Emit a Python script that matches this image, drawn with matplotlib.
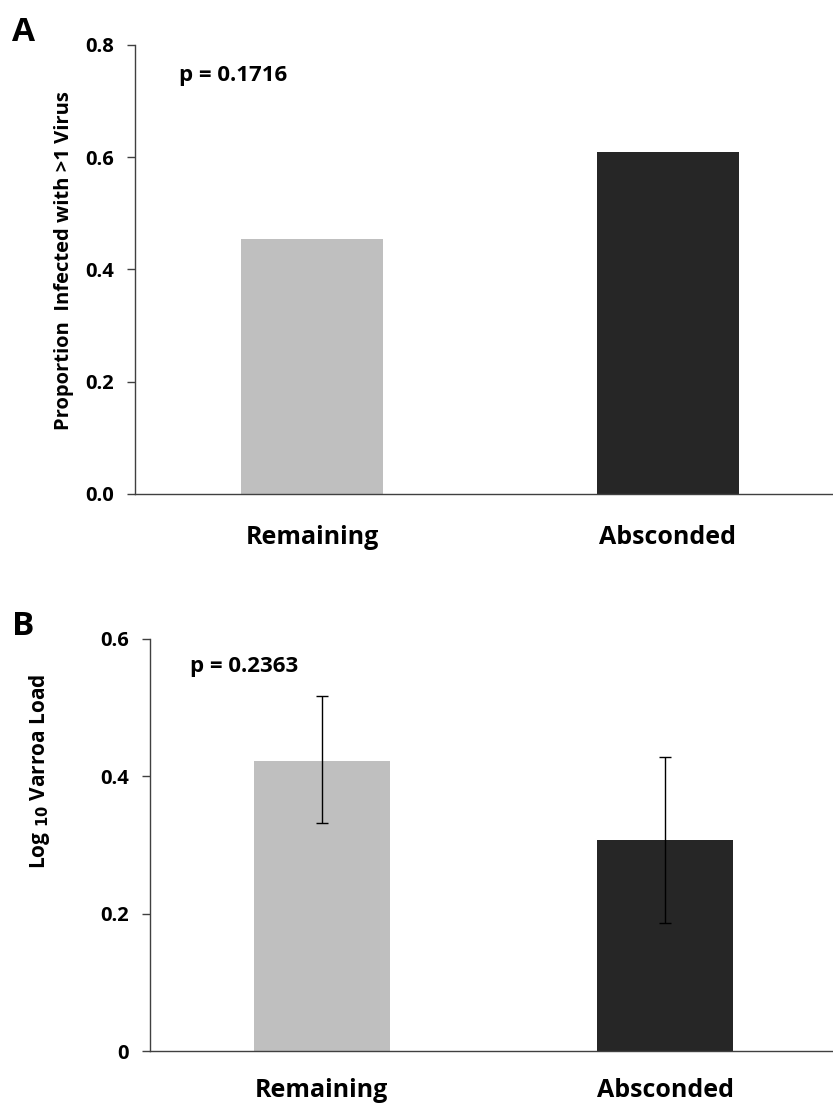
import matplotlib
matplotlib.use('Agg')
import matplotlib.pyplot as plt

plt.rcParams['font.family'] = ['Open Sans', 'DejaVu Sans']
plt.rcParams['font.weight'] = 'bold'

groups = ['Remaining', 'Absconded']
bar_colors = ['#bfbfbf', '#262626']

# panel A
prop_multi = [0.455, 0.610]
p_a = 'p = 0.1716'

# panel B
log_varroa = [0.423, 0.308]
err_low = [0.091, 0.121]   # mean - lower whisker
err_high = [0.094, 0.120]  # upper whisker - mean
p_b = 'p = 0.2363'

fig = plt.figure(figsize=(8.33, 11.08), dpi=100)


def style_axes(ax, xpad):
    for s in ['top', 'right']:
        ax.spines[s].set_visible(False)
    for s in ['left', 'bottom']:
        ax.spines[s].set_color('#404040')
        ax.spines[s].set_linewidth(1.0)
    ax.tick_params(axis='y', direction='out', length=6, width=1, color='#404040',
                   labelsize=14.5, pad=9)
    ax.tick_params(axis='x', length=0, labelsize=18, pad=xpad)
    for lab in ax.get_yticklabels() + ax.get_xticklabels():
        lab.set_fontweight('bold')


# ---- A ----
axA = fig.add_axes([0.1615, 0.5542, 0.8385, 0.4052])
x = [0, 1]
axA.bar(x, prop_multi, width=0.40, color=bar_colors)
axA.set_xlim(-0.50, 1.465)
axA.set_ylim(0, 0.8)
axA.set_yticks([0, 0.2, 0.4, 0.6, 0.8])
axA.set_yticklabels(['0.0', '0.2', '0.4', '0.6', '0.8'])
axA.set_xticks(x)
axA.set_xticklabels(groups)
axA.set_ylabel('Proportion  Infected with >1 Virus', fontsize=14.5, fontweight='bold')
axA.yaxis.set_label_coords(-0.087, 0.52)
style_axes(axA, 22)
axA.text(0.063, 0.933, p_a, transform=axA.transAxes, fontsize=16, fontweight='bold',
         va='center', ha='left')
fig.text(0.028, 0.971, 'A', fontsize=24, fontweight='bold', va='center', ha='center')

# ---- B ----
axB = fig.add_axes([0.180, 0.0510, 0.820, 0.3723])
axB.bar(x, log_varroa, width=0.396, color=bar_colors)
axB.errorbar(x, log_varroa, yerr=[err_low, err_high], fmt='none', ecolor='black',
             elinewidth=1, capsize=4, capthick=1)
axB.set_xlim(-0.50, 1.488)
axB.set_ylim(0, 0.6)
axB.set_yticks([0, 0.2, 0.4, 0.6])
axB.set_yticklabels(['0', '0.2', '0.4', '0.6'])
axB.set_xticks(x)
axB.set_xticklabels(groups)
axB.set_ylabel(r'Log $_{\mathbf{10}}$ Varroa Load', fontsize=15, fontweight='bold')
axB.yaxis.set_label_coords(-0.144, 0.68)
style_axes(axB, 19)
axB.text(0.058, 0.934, p_b, transform=axB.transAxes, fontsize=16, fontweight='bold',
         va='center', ha='left')
fig.text(0.028, 0.435, 'B', fontsize=24, fontweight='bold', va='center', ha='center')

fig.savefig('out.png', dpi=100)
